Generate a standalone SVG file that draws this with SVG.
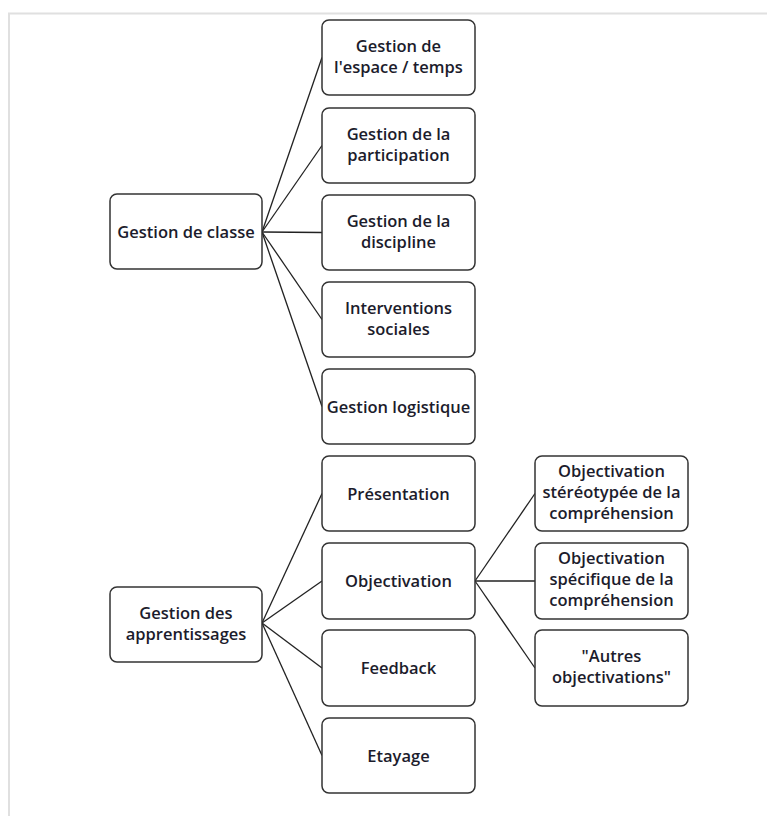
<svg xmlns="http://www.w3.org/2000/svg" width="767" height="816" viewBox="0 0 767 816">
<style>
.box{fill:#fff;stroke:#333;stroke-width:1.5}
.t{font-family:"Open Sans","Liberation Sans",sans-serif;font-size:16.5px;font-weight:600;fill:#1c1c2c;text-anchor:middle}
.c{stroke:#222;stroke-width:1.3;fill:none}
.frame{stroke:#e0e0e0;stroke-width:2;fill:none}
</style>
<rect width="767" height="816" fill="#fff"/>
<path class="frame" d="M9,816 V13.5 H767"/>
<g id="connectors">
<line class="c" x1="262" y1="232" x2="322" y2="57.5"/>
<line class="c" x1="262" y1="232" x2="322" y2="145.5"/>
<line class="c" x1="262" y1="232" x2="322" y2="232.5"/>
<line class="c" x1="262" y1="232" x2="322" y2="319.5"/>
<line class="c" x1="262" y1="232" x2="322" y2="406.5"/>
<line class="c" x1="262" y1="623" x2="322" y2="493.5"/>
<line class="c" x1="262" y1="623" x2="322" y2="581"/>
<line class="c" x1="262" y1="623" x2="322" y2="668"/>
<line class="c" x1="262" y1="623" x2="322" y2="755.5"/>
<line class="c" x1="475" y1="581" x2="535" y2="493.5"/>
<line class="c" x1="475" y1="581" x2="535" y2="581"/>
<line class="c" x1="475" y1="581" x2="535" y2="668"/>
</g>
<g id="n-classe"><rect class="box" x="110" y="194" width="152" height="75" rx="7"/><text class="t" x="186" y="237.5">Gestion de classe</text></g>
<g id="n-apprentissages"><rect class="box" x="110" y="587" width="152" height="75" rx="7"/><text class="t" x="186" y="619">Gestion des</text><text class="t" x="186" y="640">apprentissages</text></g>
<g id="n-espace"><rect class="box" x="322" y="20" width="153" height="75" rx="7"/><text class="t" x="398.5" y="52">Gestion de</text><text class="t" x="398.5" y="73">l'espace / temps</text></g>
<g id="n-participation"><rect class="box" x="322" y="108" width="153" height="75" rx="7"/><text class="t" x="398.5" y="140">Gestion de la</text><text class="t" x="398.5" y="161">participation</text></g>
<g id="n-discipline"><rect class="box" x="322" y="195" width="153" height="75" rx="7"/><text class="t" x="398.5" y="227">Gestion de la</text><text class="t" x="398.5" y="248">discipline</text></g>
<g id="n-interventions"><rect class="box" x="322" y="282" width="153" height="75" rx="7"/><text class="t" x="398.5" y="314">Interventions</text><text class="t" x="398.5" y="335">sociales</text></g>
<g id="n-logistique"><rect class="box" x="322" y="369" width="153" height="75" rx="7"/><text class="t" x="398.5" y="412.5">Gestion logistique</text></g>
<g id="n-presentation"><rect class="box" x="322" y="456" width="153" height="75" rx="7"/><text class="t" x="398.5" y="499.5">Présentation</text></g>
<g id="n-objectivation"><rect class="box" x="322" y="543" width="153" height="76" rx="7"/><text class="t" x="398.5" y="586.5">Objectivation</text></g>
<g id="n-feedback"><rect class="box" x="322" y="630" width="153" height="76" rx="7"/><text class="t" x="398.5" y="673.5">Feedback</text></g>
<g id="n-etayage"><rect class="box" x="322" y="718" width="153" height="75" rx="7"/><text class="t" x="398.5" y="761.5">Etayage</text></g>
<g id="n-stereotypee"><rect class="box" x="535" y="456" width="153" height="75" rx="7"/><text class="t" x="611.5" y="477">Objectivation</text><text class="t" x="611.5" y="498">stéréotypée de la</text><text class="t" x="611.5" y="519">compréhension</text></g>
<g id="n-specifique"><rect class="box" x="535" y="543" width="153" height="76" rx="7"/><text class="t" x="611.5" y="564">Objectivation</text><text class="t" x="611.5" y="585">spécifique de la</text><text class="t" x="611.5" y="606">compréhension</text></g>
<g id="n-autres"><rect class="box" x="535" y="630" width="153" height="76" rx="7"/><text class="t" x="611.5" y="662">"Autres</text><text class="t" x="611.5" y="683">objectivations"</text></g>
</svg>
